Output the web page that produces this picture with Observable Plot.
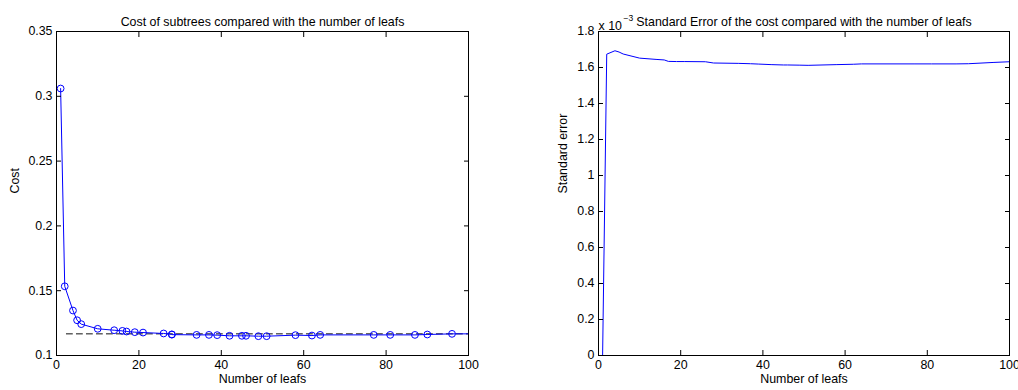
<!DOCTYPE html>
<html>
<head>
<meta charset="utf-8">
<script src="https://cdn.jsdelivr.net/npm/d3@7"></script>
<script src="https://cdn.jsdelivr.net/npm/@observablehq/plot@0.6"></script>
<style>
  html, body { margin: 0; padding: 0; background: #fff; }
  #wrap { position: relative; width: 1018px; height: 390px; overflow: hidden; }
  #left, #right { position: absolute; top: 0; }
  #left { left: 0; }
  #right { left: 509px; }
  svg { overflow: visible; }
</style>
</head>
<body>
<div id="wrap"><div id="left"></div><div id="right"></div></div>
<script>
// Number of leafs of each pruned subtree
const leafs = [1, 2, 4, 5, 6, 10, 14, 16, 17, 19, 21, 26, 28, 28, 34, 37, 39, 42, 45, 46, 49, 51, 58, 62, 64, 77, 81, 87, 90, 96];
// Cost of each subtree
const cost = [0.306, 0.1534, 0.1347, 0.1272, 0.1242, 0.1206, 0.1195, 0.1190, 0.1185, 0.1180, 0.1177, 0.1170, 0.1163, 0.1161, 0.1159, 0.1159, 0.1157, 0.1152, 0.1152, 0.1152, 0.1149, 0.1149, 0.1157, 0.1154, 0.1159, 0.1159, 0.1159, 0.1159, 0.1162, 0.1167];
// line continues to the right edge
const costTailLeaf = 100, costTail = 0.1167;
// dashed reference level (min cost + 1 SE)
const refLevel = 0.1167;
const refRange = [2.4, 100];

// Standard error (x 10^-3)
const seLeafs = [1, 2, 4, 5, 6, 10, 14, 16, 17, 19, 21, 26, 28, 34, 37, 39, 42, 45, 46, 49, 51, 58, 62, 64, 77, 81, 87, 90, 96, 100];
const stdErr = [0, 1.674, 1.693, 1.686, 1.675, 1.652, 1.645, 1.642, 1.634, 1.633, 1.633, 1.632, 1.625, 1.623, 1.621, 1.619, 1.616, 1.614, 1.614, 1.613, 1.612, 1.616, 1.618, 1.620, 1.620, 1.620, 1.620, 1.621, 1.628, 1.632];

const xTicks = [0, 20, 40, 60, 80, 100];
const costTicks = [0.1, 0.15, 0.2, 0.25, 0.3, 0.35];
const seTicks = [0, 0.2, 0.4, 0.6, 0.8, 1, 1.2, 1.4, 1.6, 1.8];

const title1 = "Cost of subtrees compared with the number of leafs";
const title2 = "Standard Error of the cost compared with the number of leafs";
const xLabel = "Number of leafs";
const yLabel1 = "Cost";
const yLabel2 = "Standard error";

const font = "'Liberation Sans', Arial, Helvetica, sans-serif";
const fs = 12.4;
const fmt = d3.format("~g");
const blue = "#0000ff";

function boxAxes(xt, yt) {
  return [
    Plot.axisX(xt, {anchor: "bottom", tickSize: -5, tickPadding: 10, tickFormat: fmt, label: null, fontSize: fs}),
    Plot.axisX(xt, {anchor: "top", tickSize: -5, tickFormat: () => "", label: null}),
    Plot.axisY(yt, {anchor: "left", tickSize: -5, tickPadding: 9, tickFormat: fmt, label: null, fontSize: fs}),
    Plot.axisY(yt, {anchor: "right", tickSize: -5, tickFormat: () => "", label: null}),
    Plot.frame({stroke: "#000", strokeWidth: 1})
  ];
}

const costData = leafs.map((l, i) => ({l, c: cost[i]}));
const costLine = costData.concat([{l: costTailLeaf, c: costTail}]);

const left = Plot.plot({
  width: 509, height: 390,
  marginLeft: 56, marginRight: 41, marginTop: 31, marginBottom: 35,
  style: {fontFamily: font, fontSize: fs + "px", color: "#000", background: "#fff"},
  x: {domain: [0, 100], axis: null},
  y: {domain: [0.1, 0.35], axis: null},
  marks: [
    Plot.line(refRange, {x: d => d, y: () => refLevel, stroke: "#111", strokeWidth: 1, strokeDasharray: "6,4"}),
    Plot.line(costLine, {x: "l", y: "c", stroke: blue, strokeWidth: 1}),
    Plot.dot(costData, {x: "l", y: "c", r: 3.4, stroke: blue, fill: "none", strokeWidth: 1}),
    ...boxAxes(xTicks, costTicks),
    Plot.text([title1], {frameAnchor: "top", dy: -14, fontSize: fs}),
    Plot.text([xLabel], {frameAnchor: "bottom", dy: 27, fontSize: fs}),
    Plot.text([yLabel1], {frameAnchor: "left", dx: -41, rotate: -90, fontSize: fs})
  ]
});
document.getElementById("left").append(left);

const seData = seLeafs.map((l, i) => ({l, s: stdErr[i]}));
const right = Plot.plot({
  width: 509, height: 390,
  marginLeft: 89, marginRight: 9, marginTop: 31, marginBottom: 35,
  style: {fontFamily: font, fontSize: fs + "px", color: "#000", background: "#fff"},
  x: {domain: [0, 100], axis: null},
  y: {domain: [0, 1.8], axis: null},
  marks: [
    Plot.line(seData, {x: "l", y: "s", stroke: blue, strokeWidth: 1}),
    ...boxAxes(xTicks, seTicks),
    Plot.text([title2], {frameAnchor: "top", dy: -14, fontSize: fs}),
    Plot.text(["x 10"], {frameAnchor: "top-left", dy: -10, textAnchor: "start", fontSize: fs}),
    Plot.text(["\u22123"], {frameAnchor: "top-left", dx: 25, dy: -17, textAnchor: "start", fontSize: 8.5}),
    Plot.text([xLabel], {frameAnchor: "bottom", dy: 27, fontSize: fs}),
    Plot.text([yLabel2], {frameAnchor: "left", dx: -35, rotate: -90, fontSize: fs})
  ]
});
document.getElementById("right").append(right);
</script>
</body>
</html>
